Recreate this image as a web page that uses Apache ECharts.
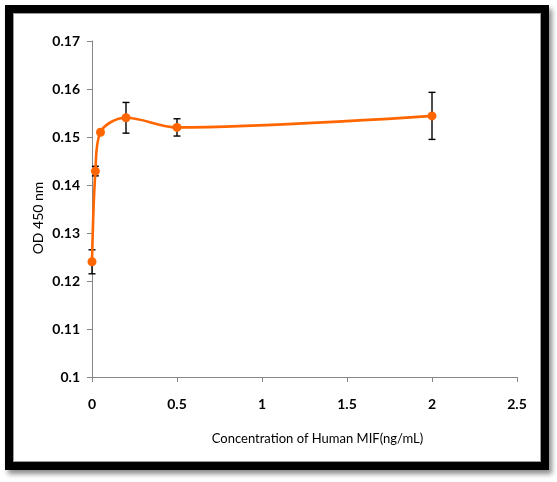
<!DOCTYPE html>
<html>
<head>
<meta charset="utf-8">
<script src="https://cdn.jsdelivr.net/npm/echarts@6/dist/echarts.min.js"></script>
<style>
html, body { margin: 0; padding: 0; background: #fff; }
#wrap { position: relative; width: 557px; height: 482px; }
#frame {
    position: absolute; left: 5px; top: 5px; width: 528px; height: 449px;
    border: 8px solid #000; box-shadow: 3px 4px 5px rgba(0,0,0,0.45);
    pointer-events: none;
}
#frame_in { position: absolute; left: 0; top: 0; right: 0; bottom: 0; border: 1px solid #999; }
#chart { position: absolute; left: 0; top: 0; width: 557px; height: 482px; }
</style>
</head>
<body>
<div id="wrap">
<div id="chart"></div>
<div id="frame"><div id="frame_in"></div></div>
</div>
<script>
// concentration (ng/mL), OD 450 nm, standard deviation
var conc	= [0, 0.02, 0.05, 0.2, 0.5, 2];
var od	= [0.124, 0.1429, 0.151, 0.154, 0.152, 0.1544];
var sd	= [0.0025, 0.001, 0.0002, 0.0032, 0.0018, 0.0049];
var x_ticks	= ['0', '0.5', '1', '1.5', '2', '2.5'];
var y_ticks	= ['0.1', '0.11', '0.12', '0.13', '0.14', '0.15', '0.16', '0.17'];

var line_data = [];
var err_data = [];
for (var i = 0; i < conc.length; i++) {
    line_data.push([conc[i], od[i]]);
    err_data.push([conc[i], od[i] - sd[i], od[i] + sd[i]]);
}

var font = 'Lato, "Open Sans", sans-serif';

var option = {
    animation: false,
    grid: {
	left: 92,
	right: 40,
	top: 41,
	bottom: 105
    },
    xAxis: {
	type: 'value',
	min: 0,
	max: 2.5,
	interval: 0.5,
	name: 'Concentration of Human MIF(ng/mL)',
	nameLocation: 'middle',
	nameGap: 55,
	nameTextStyle: {
	    color: '#000',
	    fontFamily: font,
	    fontSize: 13,
	    padding: [0, 0, 0, 26]
	},
	axisLine: { show: true, lineStyle: { color: '#868686', width: 1 } },
	axisTick: { show: true, length: 5, lineStyle: { color: '#868686' } },
	axisLabel: {
	    margin: 20,
	    color: '#000',
	    fontFamily: font,
	    fontWeight: 'bold',
	    fontSize: 14,
	    formatter: function (v) { return x_ticks[Math.round(v / 0.5)]; }
	},
	splitLine: { show: false }
    },
    yAxis: {
	type: 'value',
	min: 0.1,
	max: 0.17,
	interval: 0.01,
	name: 'OD 450 nm',
	nameLocation: 'middle',
	nameGap: 47,
	nameMoveOverlap: false,
	nameTextStyle: {
	    color: '#000',
	    fontFamily: font,
	    fontSize: 14,
	    padding: [0, 18, 0, 0]
	},
	axisLine: { show: true, lineStyle: { color: '#868686', width: 1 } },
	axisTick: { show: true, length: 5, lineStyle: { color: '#868686' } },
	axisLabel: {
	    margin: 12,
	    color: '#000',
	    fontFamily: font,
	    fontWeight: 'bold',
	    fontSize: 14,
	    formatter: function (v) { return y_ticks[Math.round((v - 0.1) / 0.01)]; }
	},
	splitLine: { show: false }
    },
    series: [
	{
	    type: 'line',
	    data: line_data,
	    smooth: 0.35,
	    symbol: 'circle',
	    symbolSize: 9,
	    z: 3,
	    lineStyle: { color: '#FF6600', width: 2.6 },
	    itemStyle: { color: '#FF6600' }
	},
	{
	    type: 'custom',
	    data: err_data,
	    z: 2,
	    renderItem: function (params, api) {
		var lo = api.coord([api.value(0), api.value(1)]);
		var hi = api.coord([api.value(0), api.value(2)]);
		var cap = 3.5;
		var st = { stroke: '#000', lineWidth: 1.4 };
		return {
		    type: 'group',
		    children: [
			{ type: 'line', shape: { x1: lo[0], y1: lo[1], x2: hi[0], y2: hi[1] }, style: st },
			{ type: 'line', shape: { x1: lo[0] - cap, y1: lo[1], x2: lo[0] + cap, y2: lo[1] }, style: st },
			{ type: 'line', shape: { x1: hi[0] - cap, y1: hi[1], x2: hi[0] + cap, y2: hi[1] }, style: st }
		    ]
		};
	    }
	}
    ]
};

var chart = echarts.init(document.getElementById('chart'));
chart.setOption(option);
</script>
</body>
</html>
